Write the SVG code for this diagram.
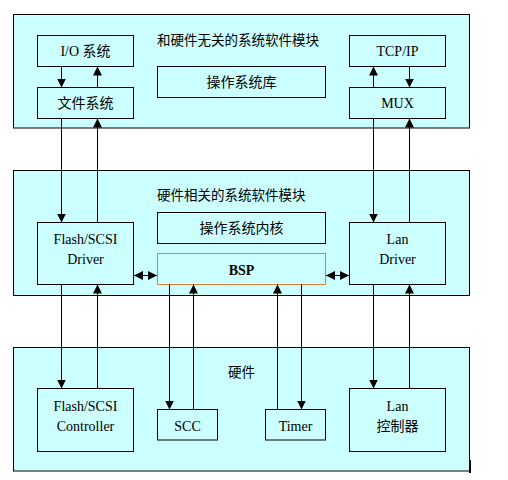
<svg xmlns="http://www.w3.org/2000/svg" width="508" height="480" viewBox="0 0 508 480">
<defs>
<style>
.panel{fill:#CCFFFF;stroke:#000;stroke-width:1}
.box{fill:#CCFFFF;stroke:#000;stroke-width:1}
.bsp{fill:#CCFFFF;stroke:#E0803A;stroke-width:1}
.t{font-family:"Liberation Serif","Noto Sans CJK SC",serif;font-size:14px;fill:#000;text-anchor:middle}
.cn{font-family:"Noto Sans CJK SC","Liberation Sans",sans-serif;font-size:13.5px;fill:#000}
.c{stroke:#000;stroke-width:1;fill:none;marker-end:url(#ah)}
.d{stroke:#000;stroke-width:1;fill:none;marker-start:url(#ahs);marker-end:url(#ah)}
</style>
<marker id="ah" markerUnits="userSpaceOnUse" markerWidth="10" markerHeight="10" refX="9" refY="4.5" orient="auto">
<path d="M0,0 L9,4.5 L0,9 Z" fill="#000"/>
</marker>
<marker id="ahs" markerUnits="userSpaceOnUse" markerWidth="10" markerHeight="10" refX="0" refY="4.5" orient="auto">
<path d="M9,0 L0,4.5 L9,9 Z" fill="#000"/>
</marker>
</defs>
<rect width="508" height="480" fill="#fff"/>

<g id="panel-top">
<rect class="panel" x="13.5" y="14.5" width="456" height="113.5"/>
<text class="cn" x="157" y="45">和硬件无关的系统软件模块</text>
</g>
<g id="panel-mid">
<rect class="panel" x="13.5" y="170.5" width="456" height="125"/>
<text class="cn" x="157" y="200">硬件相关的系统软件模块</text>
</g>
<g id="panel-bottom">
<rect class="panel" x="13.5" y="347.5" width="456" height="123.5"/>
<text class="cn" x="241.5" y="377" text-anchor="middle">硬件</text>
<line x1="470" y1="460" x2="470" y2="473" stroke="#000" stroke-width="2"/>
</g>

<g id="io">
<rect class="box" x="37.5" y="35.5" width="96" height="31"/>
<text class="t" x="85.5" y="56">I/O 系统</text>
</g>
<g id="fs">
<rect class="box" x="37.5" y="87.5" width="96" height="31"/>
<text class="t" x="85.5" y="108">文件系统</text>
</g>
<g id="oslib">
<rect class="box" x="157.5" y="66.5" width="168" height="31"/>
<text class="t" x="241.5" y="87">操作系统库</text>
</g>
<g id="tcpip">
<rect class="box" x="349.5" y="35.5" width="96" height="31"/>
<text class="t" x="397.5" y="56">TCP/IP</text>
</g>
<g id="mux">
<rect class="box" x="349.5" y="87.5" width="96" height="31"/>
<text class="t" x="397.5" y="108">MUX</text>
</g>

<g id="kernel">
<rect class="box" x="157.5" y="212.5" width="168" height="31"/>
<text class="t" x="241.5" y="233">操作系统内核</text>
</g>
<g id="bsp">
<rect class="bsp" x="157.5" y="253.5" width="168" height="31"/>
<text class="t" x="241.5" y="275" font-weight="bold">BSP</text>
</g>
<g id="flash-driver">
<rect class="box" x="37.5" y="222.5" width="96" height="62"/>
<text class="t" x="85.5" y="244">Flash/SCSI</text>
<text class="t" x="85.5" y="264">Driver</text>
</g>
<g id="lan-driver">
<rect class="box" x="349.5" y="222.5" width="96" height="62"/>
<text class="t" x="397.5" y="244">Lan</text>
<text class="t" x="397.5" y="264">Driver</text>
</g>

<g id="flash-ctrl">
<rect class="box" x="37.5" y="388.5" width="96" height="63"/>
<text class="t" x="85.5" y="410.5">Flash/SCSI</text>
<text class="t" x="85.5" y="431">Controller</text>
</g>
<g id="scc">
<rect class="box" x="157.5" y="409.5" width="60" height="30.5"/>
<text class="t" x="187.5" y="430.5">SCC</text>
</g>
<g id="timer">
<rect class="box" x="265.5" y="409.5" width="60" height="30.5"/>
<text class="t" x="295.5" y="430.5">Timer</text>
</g>
<g id="lan-ctrl">
<rect class="box" x="349.5" y="388.5" width="96" height="63"/>
<text class="t" x="397.5" y="410.5">Lan</text>
<text class="t" x="397.5" y="431">控制器</text>
</g>

<g id="connectors">
<line class="c" x1="61.5" y1="66.5" x2="61.5" y2="87.5"/>
<line class="c" x1="97.5" y1="87.5" x2="97.5" y2="66.5"/>
<line class="c" x1="373.5" y1="87.5" x2="373.5" y2="66.5"/>
<line class="c" x1="409.5" y1="66.5" x2="409.5" y2="87.5"/>
<line class="c" x1="61.5" y1="118.5" x2="61.5" y2="222.5"/>
<line class="c" x1="97.5" y1="222.5" x2="97.5" y2="118.5"/>
<line class="c" x1="373.5" y1="118.5" x2="373.5" y2="222.5"/>
<line class="c" x1="409.5" y1="222.5" x2="409.5" y2="118.5"/>
<line class="c" x1="61.5" y1="284.5" x2="61.5" y2="388.5"/>
<line class="c" x1="97.5" y1="388.5" x2="97.5" y2="284.5"/>
<line class="c" x1="169.5" y1="284.5" x2="169.5" y2="409.5"/>
<line class="c" x1="193.5" y1="409.5" x2="193.5" y2="284.5"/>
<line class="c" x1="277.5" y1="409.5" x2="277.5" y2="284.5"/>
<line class="c" x1="301.5" y1="284.5" x2="301.5" y2="409.5"/>
<line class="c" x1="373.5" y1="284.5" x2="373.5" y2="388.5"/>
<line class="c" x1="409.5" y1="388.5" x2="409.5" y2="284.5"/>
<line class="d" x1="134" y1="275.5" x2="157" y2="275.5"/>
<line class="d" x1="326" y1="275.5" x2="349" y2="275.5"/>
</g>
</svg>
